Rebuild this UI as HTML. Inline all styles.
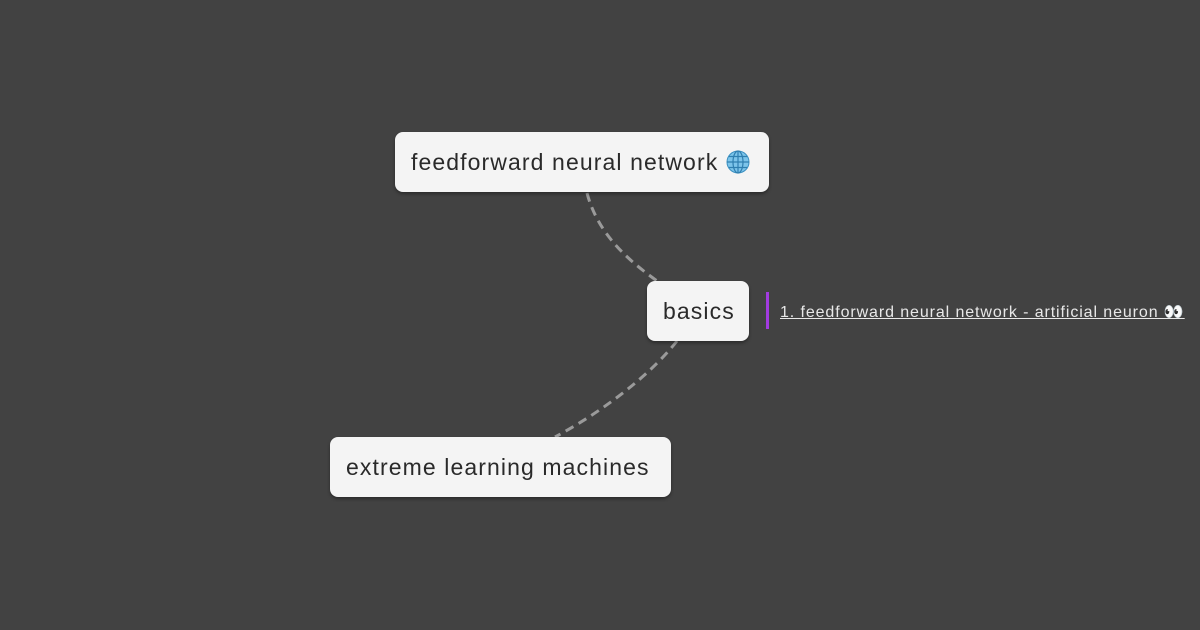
<!DOCTYPE html>
<html><head><meta charset="utf-8"><style>
html,body{margin:0;padding:0;}
body{width:1200px;height:630px;background:#424242;position:relative;overflow:hidden;font-family:"Liberation Sans","DejaVu Sans",sans-serif;}
.node{position:absolute;background:#f4f4f4;border-radius:8px;box-shadow:0 2px 3px rgba(0,0,0,.35);color:#2a2a2a;font-size:23px;line-height:60px;box-sizing:border-box;padding-left:16px;white-space:nowrap;letter-spacing:1.1px;}
.link{position:absolute;left:780px;top:302px;color:#e8e8e8;font-size:16px;text-decoration:underline;white-space:nowrap;letter-spacing:0.9px;}
.bar{position:absolute;left:766px;top:292px;width:3px;height:37px;background:#a23be0;}
</style></head><body>
<svg width="1200" height="630" style="position:absolute;left:0;top:0">
<path d="M587,193 C598,235 630,262 660,283" stroke="#9a9a9a" stroke-width="3" fill="none" stroke-dasharray="9,6"/>
<path d="M677,341 C650,375 605,410 555,437" stroke="#9a9a9a" stroke-width="3" fill="none" stroke-dasharray="9,6"/>
</svg>
<div class="node" style="left:395px;top:132px;width:374px;height:60px;">feedforward neural network <svg width="24" height="24" viewBox="0 0 24 24" style="vertical-align:-4px"><circle cx="12" cy="12" r="11" fill="#7cc4ea" stroke="#3a8fc0" stroke-width="1"/><ellipse cx="12" cy="12" rx="5" ry="11" fill="none" stroke="#2f7fb0" stroke-width="1.2"/><line x1="1" y1="12" x2="23" y2="12" stroke="#2f7fb0" stroke-width="1.2"/><line x1="3" y1="6.5" x2="21" y2="6.5" stroke="#2f7fb0" stroke-width="1.2"/><line x1="3" y1="17.5" x2="21" y2="17.5" stroke="#2f7fb0" stroke-width="1.2"/><line x1="12" y1="1" x2="12" y2="23" stroke="#2f7fb0" stroke-width="1.2"/></svg></div>
<div class="node" style="left:647px;top:281px;width:102px;height:60px;">basics</div>
<div class="node" style="left:330px;top:437px;width:341px;height:60px;">extreme learning machines</div>
<div class="bar"></div>
<div class="link">1. feedforward neural network - artificial neuron 👀</div>
</body></html>
